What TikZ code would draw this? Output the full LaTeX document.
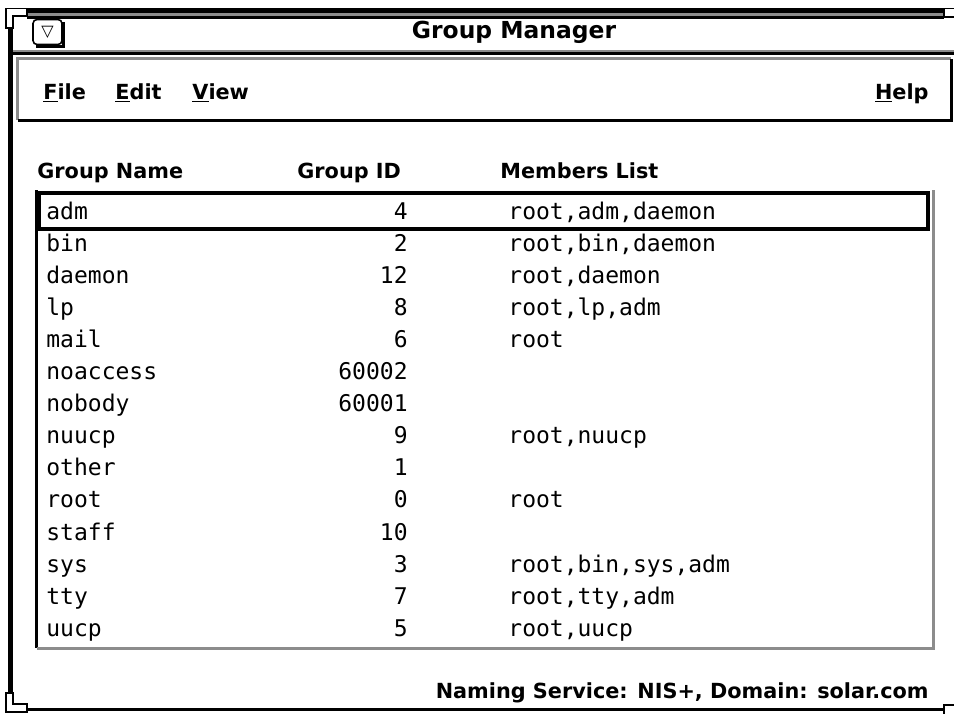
\documentclass[tikz,border=0pt]{standalone}
\usepackage{fontspec}
\setmainfont{DejaVu Sans}
\newfontfamily\listfont{DejaVu Sans Mono}
\usepackage{tikz}

\begin{document}
\begin{tikzpicture}[x=0.5pt, y=-0.5pt,
        head/.style = {font=\bfseries\fontsize{10.4}{12}\selectfont, inner sep=0pt},
        cell/.style = {font=\listfont\fontsize{11.5}{13}\selectfont, inner sep=0pt},
        shade/.style = {draw=black!45, line width=1.5pt},
        edge/.style = {draw=black, line width=1.5pt},
        corner/.style = {draw=black, fill=white, line width=0.7pt}]
        \useasboundingbox (0,0) rectangle (954,713);
        % window frame
        \draw[line width=2.5pt] (27,10.5) -- (944,10.5);
        \draw[black!45, line width=1.5pt] (27,14.5) -- (944,14.5);
        \draw[line width=1.5pt] (27,17.5) -- (944,17.5);
        \draw[line width=2.5pt] (10,28) -- (10,694);
        \draw[line width=1.5pt] (27,709.5) -- (944,709.5);
        \draw[corner] (6,8.5) -- (27,8.5) -- (27,16) -- (13,16) -- (13,28) -- (6,28) -- cycle;
        \draw[corner] (6,693) -- (13,693) -- (13,704) -- (27,704) -- (27,712) -- (6,712) -- cycle;
        \draw[corner] (944,8.5) rectangle (957,17);
        \draw[corner] (944,705) rectangle (957,716);
        % title bar
        \draw[black!45, line width=1pt] (13,50.5) -- (954,50.5);
        \draw[line width=1.5pt] (13,53.5) -- (954,53.5);
        \draw[line width=0.8pt, rounded corners=2pt] (33,19.5) rectangle (62,44.5);
        \draw[line width=1.5pt] (36,46) -- (63.5,46) -- (63.5,22);
        \node[inner sep=0pt] (menubtn) at (47.5,32) {\fontsize{8}{8}\selectfont ▽};
        \node[head, font=\bfseries\fontsize{11.7}{14}\selectfont, anchor=base] (title) at (514,38) {Group Manager};
        % menu bar
        \draw[shade] (17.5,120) -- (17.5,58.5) -- (951,58.5);
        \draw[edge] (17.5,120) -- (951,120) -- (951,58.5);
        \node[head, anchor=base west] (file) at (43,99) {\underline{F}ile};
        \node[head, anchor=base west] (edit) at (115,99) {\underline{E}dit};
        \node[head, anchor=base west] (view) at (192,99) {\underline{V}iew};
        \node[head, anchor=base east] (help) at (929,99) {\underline{H}elp};
        % column heads
        \node[head, anchor=base west] (namehead) at (37,178) {Group Name};
        \node[head, anchor=base west] (idhead) at (297,178) {Group ID};
        \node[head, anchor=base west] (memhead) at (500,178) {Members List};
        % list box
        \draw[line width=1.5pt] (36.5,190) -- (36.5,648);
        \draw[shade] (36.5,648) -- (933,648) -- (933,190);
        \draw[line width=2pt] (39,192.5) rectangle (927.5,228.5);
        % rows
        \node[cell, anchor=base west] (adm) at (46,219) {adm};
        \node[cell, anchor=base east] (adm-id) at (408,219) {4};
        \node[cell, anchor=base west] (adm-mem) at (508,219) {root,adm,daemon};
        \node[cell, anchor=base west] (bin) at (46,251.1) {bin};
        \node[cell, anchor=base east] (bin-id) at (408,251.1) {2};
        \node[cell, anchor=base west] (bin-mem) at (508,251.1) {root,bin,daemon};
        \node[cell, anchor=base west] (daemon) at (46,283.2) {daemon};
        \node[cell, anchor=base east] (daemon-id) at (408,283.2) {12};
        \node[cell, anchor=base west] (daemon-mem) at (508,283.2) {root,daemon};
        \node[cell, anchor=base west] (lp) at (46,315.3) {lp};
        \node[cell, anchor=base east] (lp-id) at (408,315.3) {8};
        \node[cell, anchor=base west] (lp-mem) at (508,315.3) {root,lp,adm};
        \node[cell, anchor=base west] (mail) at (46,347.4) {mail};
        \node[cell, anchor=base east] (mail-id) at (408,347.4) {6};
        \node[cell, anchor=base west] (mail-mem) at (508,347.4) {root};
        \node[cell, anchor=base west] (noaccess) at (46,379.5) {noaccess};
        \node[cell, anchor=base east] (noaccess-id) at (408,379.5) {60002};
        \node[cell, anchor=base west] (nobody) at (46,411.6) {nobody};
        \node[cell, anchor=base east] (nobody-id) at (408,411.6) {60001};
        \node[cell, anchor=base west] (nuucp) at (46,443.7) {nuucp};
        \node[cell, anchor=base east] (nuucp-id) at (408,443.7) {9};
        \node[cell, anchor=base west] (nuucp-mem) at (508,443.7) {root,nuucp};
        \node[cell, anchor=base west] (other) at (46,475.8) {other};
        \node[cell, anchor=base east] (other-id) at (408,475.8) {1};
        \node[cell, anchor=base west] (root) at (46,507.9) {root};
        \node[cell, anchor=base east] (root-id) at (408,507.9) {0};
        \node[cell, anchor=base west] (root-mem) at (508,507.9) {root};
        \node[cell, anchor=base west] (staff) at (46,540) {staff};
        \node[cell, anchor=base east] (staff-id) at (408,540) {10};
        \node[cell, anchor=base west] (sys) at (46,572.1) {sys};
        \node[cell, anchor=base east] (sys-id) at (408,572.1) {3};
        \node[cell, anchor=base west] (sys-mem) at (508,572.1) {root,bin,sys,adm};
        \node[cell, anchor=base west] (tty) at (46,604.2) {tty};
        \node[cell, anchor=base east] (tty-id) at (408,604.2) {7};
        \node[cell, anchor=base west] (tty-mem) at (508,604.2) {root,tty,adm};
        \node[cell, anchor=base west] (uucp) at (46,636.3) {uucp};
        \node[cell, anchor=base east] (uucp-id) at (408,636.3) {5};
        \node[cell, anchor=base west] (uucp-mem) at (508,636.3) {root,uucp};
        % status line
        \node[head, anchor=base east] (status) at (929,698) {Naming Service: NIS+, Domain: solar.com};
    \end{tikzpicture}
\end{document}
